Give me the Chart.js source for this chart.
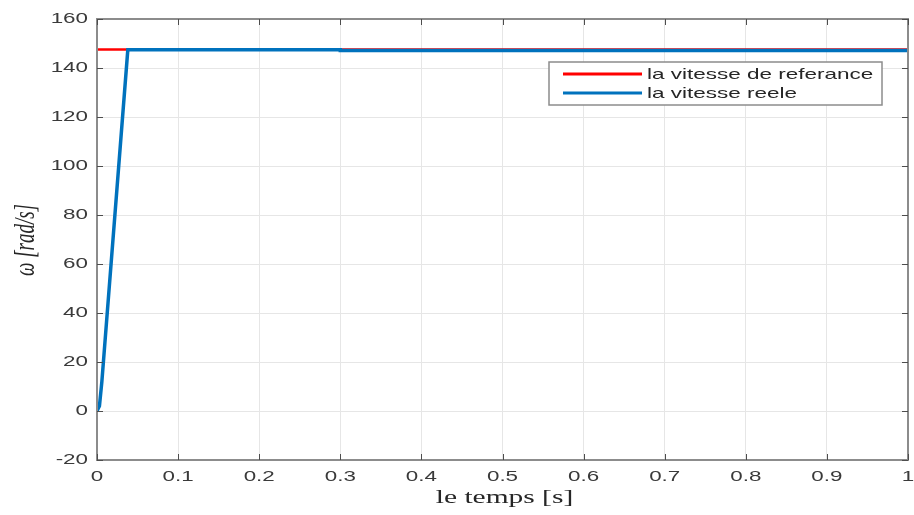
<!DOCTYPE html>
<html>
<head>
<meta charset="utf-8">
<script src="https://cdn.jsdelivr.net/npm/chart.js@4.4.1/dist/chart.umd.min.js"></script>
<style>
  html, body { margin: 0; padding: 0; background: #fff; }
  #wrap { width: 914px; height: 515px; }
</style>
</head>
<body>
<div id="wrap"><canvas id="speedChart"></canvas></div>
<script>
// values
const seriesNames = ['la vitesse de referance', 'la vitesse reele'];
const refTime = [0, 1];
const refSpeed = [147.6, 147.6];
const realTime = [0, 0.003, 0.006, 0.038, 0.3, 0.3, 1];
const realSpeed = [0, 2, 12, 147.4, 147.4, 147.15, 147.15];
const xTickLabels = ['0', '0.1', '0.2', '0.3', '0.4', '0.5', '0.6', '0.7', '0.8', '0.9', '1'];
const yTickLabels = ['-20', '0', '20', '40', '60', '80', '100', '120', '140', '160'];

const toPoints = (xs, ys) => xs.map((x, i) => ({ x: x, y: ys[i] }));

// the source image is stretched sideways, so text is drawn wide
function wideText(ctx, text, x, y, sx, align) {
    ctx.save();
    ctx.translate(x, y);
    ctx.scale(sx, 1);
    ctx.textAlign = align;
    ctx.fillText(text, 0, 0);
    ctx.restore();
}

const matlabFrame = {
    id: 'matlabFrame',
    afterDatasetsDraw(chart) {
        const ctx = chart.ctx;
        const a = chart.chartArea;
        const xs = chart.scales.x, ys = chart.scales.y;
        ctx.save();

        // box
        ctx.strokeStyle = '#8c8c8c';
        ctx.lineWidth = 2;
        ctx.strokeRect(a.left, a.top, a.right - a.left, a.bottom - a.top);

        // inward ticks on all four sides
        ctx.strokeStyle = '#4d4d4d';
        ctx.lineWidth = 1;
        ctx.beginPath();
        xs.ticks.forEach(t => {
            const px = Math.round(xs.getPixelForValue(t.value)) + 0.5;
            ctx.moveTo(px, a.bottom); ctx.lineTo(px, a.bottom - 6);
            ctx.moveTo(px, a.top); ctx.lineTo(px, a.top + 6);
        });
        ys.ticks.forEach(t => {
            const py = Math.round(ys.getPixelForValue(t.value)) + 0.5;
            ctx.moveTo(a.left, py); ctx.lineTo(a.left + 6, py);
            ctx.moveTo(a.right, py); ctx.lineTo(a.right - 6, py);
        });
        ctx.stroke();

        // tick labels
        ctx.fillStyle = '#3a3a3a';
        ctx.font = '14px "Liberation Sans", Arial, sans-serif';
        ctx.textBaseline = 'middle';
        xs.ticks.forEach((t, i) => {
            wideText(ctx, xTickLabels[i], xs.getPixelForValue(t.value), 477, 1.6, 'center');
        });
        ys.ticks.forEach((t, i) => {
            wideText(ctx, yTickLabels[i], 88, ys.getPixelForValue(t.value), 1.6, 'right');
        });

        // legend box
        const lx = 549, ly = 62, lw = 333, lh = 43;
        ctx.fillStyle = '#fff';
        ctx.fillRect(lx, ly, lw, lh);
        ctx.strokeStyle = '#8c8c8c';
        ctx.lineWidth = 1.5;
        ctx.strokeRect(lx, ly, lw, lh);
        const colors = ['#ff0000', '#0072bd'];
        const rows = [74, 93];
        ctx.font = '15px "Liberation Sans", Arial, sans-serif';
        seriesNames.forEach((name, i) => {
            ctx.strokeStyle = colors[i];
            ctx.lineWidth = 3;
            ctx.beginPath();
            ctx.moveTo(563, rows[i]); ctx.lineTo(642, rows[i]);
            ctx.stroke();
            ctx.fillStyle = '#262626';
            wideText(ctx, name, 647, rows[i] + 1, 1.5, 'left');
        });

        // axis titles
        ctx.fillStyle = '#262626';
        ctx.font = '19px "Liberation Serif", "Times New Roman", serif';
        ctx.textBaseline = 'alphabetic';
        wideText(ctx, 'le temps [s]', (a.left + a.right) / 2 + 2, 503, 1.55, 'center');

        ctx.translate(34, 240);
        ctx.rotate(-Math.PI / 2);
        ctx.scale(1, 1.5);
        ctx.font = 'italic 19px "Liberation Serif", "Times New Roman", serif';
        ctx.textAlign = 'center';
        ctx.fillText('ω [rad/s]', 0, 0);
        ctx.restore();
    }
};

new Chart(document.getElementById('speedChart'), {
    type: 'line',
    data: {
        datasets: [{
            label: seriesNames[0],
            data: toPoints(refTime, refSpeed),
            borderColor: '#ff0000',
            borderWidth: 2.5,
            pointRadius: 0,
            order: 2
        }, {
            label: seriesNames[1],
            data: toPoints(realTime, realSpeed),
            borderColor: '#0072bd',
            borderWidth: 3.5,
            pointRadius: 0,
            order: 1
        }]
    },
    options: {
        responsive: true,
        maintainAspectRatio: false,
        animation: false,
        layout: { padding: { top: 19, right: 6, left: 0, bottom: 0 } },
        plugins: {
            legend: { display: false },
            tooltip: { enabled: false }
        },
        scales: {
            x: {
                type: 'linear',
                min: 0,
                max: 1,
                afterFit: s => { s.height = 55; s.paddingLeft = 0; s.paddingRight = 0; },
                ticks: { stepSize: 0.1, autoSkip: false, display: false },
                grid: { color: '#e6e6e6', drawTicks: false },
                border: { display: false }
            },
            y: {
                min: -20,
                max: 160,
                afterFit: s => { s.width = 97; s.paddingTop = 0; s.paddingBottom = 0; },
                ticks: { stepSize: 20, autoSkip: false, display: false },
                grid: { color: '#e6e6e6', drawTicks: false },
                border: { display: false }
            }
        }
    },
    plugins: [matlabFrame]
});
</script>
</body>
</html>
